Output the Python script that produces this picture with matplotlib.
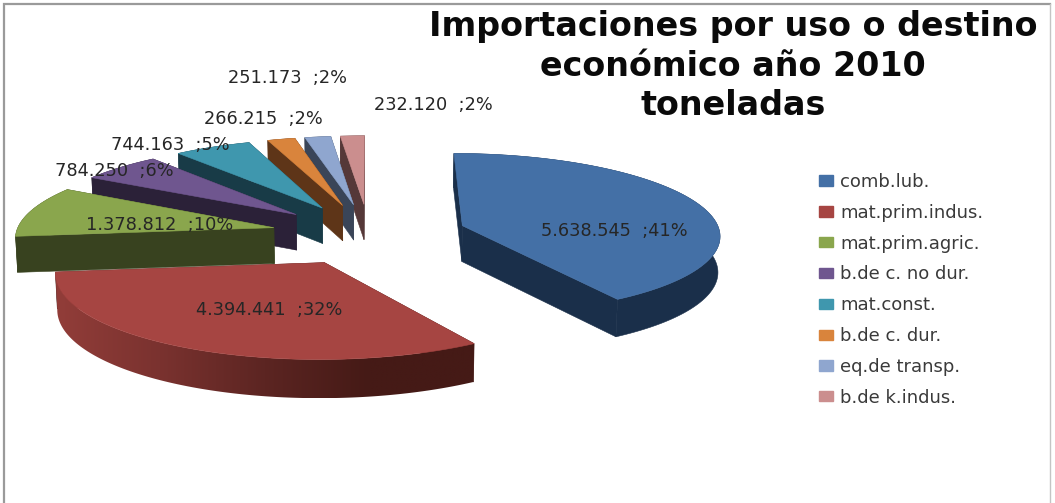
import numpy as np
import matplotlib
matplotlib.use("Agg")
import matplotlib.pyplot as plt
from matplotlib.patches import Polygon, Patch
from matplotlib.colors import to_rgb, LinearSegmentedColormap

categories = ["comb.lub.", "mat.prim.indus.", "mat.prim.agric.", "b.de c. no dur.",
              "mat.const.", "b.de c. dur.", "eq.de transp.", "b.de k.indus."]
values = [5638545, 4394441, 1378812, 784250, 744163, 266215, 251173, 232120]
title = "Importaciones por uso o destino\neconómico año 2010\ntoneladas"

top_colors = ["#4470a6", "#a64542", "#8aa64d", "#6f568f", "#3f97ae", "#d9843c", "#8fa6cf", "#cb8e8e"]
wall_colors = ["#1a2f4a", "#451a16", "#38421f", "#2b2138", "#183b47", "#5e3518", "#3a4558", "#553838"]
label_pos = [(614, 231), (269, 310), (160, 225), (114, 171), (170, 145), (263, 119), (287, 78), (433, 105)]

W, H = 1055, 503
CX, CY, RX, RY, DEPTH, PERSP, EXPLODE = 369, 234, 258, 81, 36, 0.10, 0.38

fig = plt.figure(figsize=(W / 100, H / 100), dpi=100, facecolor="white")
ax = fig.add_axes([0, 0, 1, 1])


def project(x, y, z=0.0):
    w = 1 + PERSP * y + 0.006 * z
    base = 1 + PERSP * y
    return np.column_stack([CX + RX * x / w, CY - RY * y / base + DEPTH * z / np.sqrt(base)])


fractions = np.array(values, dtype=float) / sum(values)
edges = np.concatenate([[0], np.cumsum(fractions)]) * 2 * np.pi

# back slices first, front slices last
order = [7, 6, 5, 4, 3, 2, 0, 1]
for i in order:
    a0, a1 = edges[i], edges[i + 1]
    mid = (a0 + a1) / 2
    ox, oy = EXPLODE * np.sin(mid), EXPLODE * np.cos(mid)
    t = np.linspace(a0, a1, 160)
    ax_x, ax_y = ox + np.sin(t), oy + np.cos(t)
    top_arc = project(ax_x, ax_y, 0)
    bot_arc = project(ax_x, ax_y, 1)
    tip_top = project(np.array([ox]), np.array([oy]), 0)
    tip_bot = project(np.array([ox]), np.array([oy]), 1)
    wall = wall_colors[i]
    # radial cut faces
    for k in (0, -1):
        face = np.vstack([tip_top, top_arc[k], bot_arc[k], tip_bot])
        ax.add_patch(Polygon(face, closed=True, fc=wall, ec=wall, lw=0.4))
    # outer rim
    rim = np.vstack([top_arc, bot_arc[::-1]])
    if i == 1:
        cmap = LinearSegmentedColormap.from_list("rim", ["#923d39", "#7a322f", "#5c2522", wall, wall])
        x0, x1 = rim[:, 0].min(), rim[:, 0].max()
        y0, y1 = rim[:, 1].min(), rim[:, 1].max()
        im = ax.imshow(np.linspace(0, 1, 256)[None, :], cmap=cmap, aspect="auto",
                       extent=(x0, x1, y1, y0), zorder=1.5, interpolation="bilinear")
        clip = Polygon(rim, closed=True, fc="none", ec="none", transform=ax.transData)
        ax.add_patch(clip)
        im.set_clip_path(clip)
    else:
        ax.add_patch(Polygon(rim, closed=True, fc=wall, ec=wall, lw=0.4))
    # top face
    ax.add_patch(Polygon(np.vstack([tip_top, top_arc]), closed=True,
                         fc=top_colors[i], ec=top_colors[i], lw=0.4, zorder=2))

# data labels
for val, frac, (lx, ly) in zip(values, fractions, label_pos):
    txt = f"{val:,}".replace(",", ".") + f"  ;{frac * 100:.0f}%"
    ax.text(lx, ly, txt, ha="center", va="center", fontsize=12.8,
            color="#262626", family="DejaVu Sans", zorder=5)

ax.text(733, 66, title, ha="center", va="center", fontsize=24, fontweight="bold",
        color="#0a0a0a", family="DejaVu Sans", linespacing=1.25)

handles = [Patch(fc=c, ec=c) for c in top_colors]
ax.legend(handles, categories, loc="upper left", bbox_to_anchor=(819 / W, 1 - 173 / H),
          frameon=False, fontsize=13, labelspacing=0.71, handlelength=0.78, handleheight=0.5,
          handletextpad=0.4, labelcolor="#3a3a3a", borderaxespad=0, borderpad=0)

# outer frame
ax.plot([3.5, 3.5, 1050], [H, 3.5, 3.5], color="#9a9a9a", lw=1.6, solid_joinstyle="miter")
ax.plot([1050, 1050], [3.5, H], color="#c4c4c4", lw=1.0)

ax.set_xlim(0, W)
ax.set_ylim(H, 0)
ax.axis("off")

fig.savefig("out.png", dpi=100, facecolor="white")
